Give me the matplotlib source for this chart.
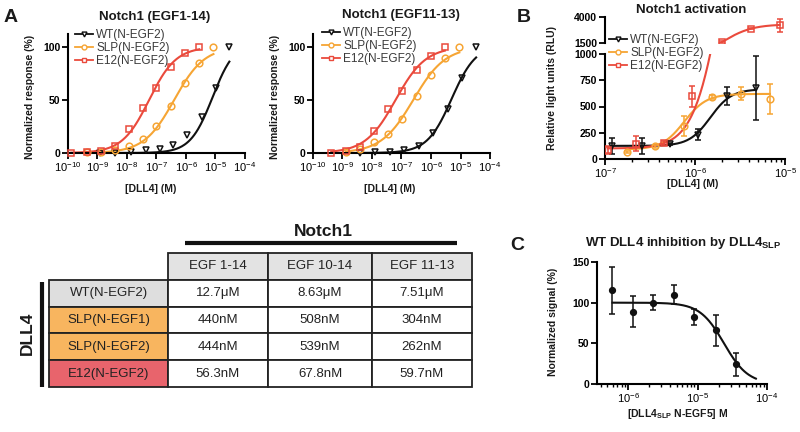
import numpy as np
import matplotlib
matplotlib.use("Agg")
import matplotlib.pyplot as plt
from matplotlib.lines import Line2D

plt.rcParams['font.family'] = ['Liberation Sans', 'DejaVu Sans']
plt.rcParams['mathtext.fontset'] = 'custom'
plt.rcParams['mathtext.rm'] = 'Liberation Sans'
plt.rcParams['mathtext.it'] = 'Liberation Sans:italic'
plt.rcParams['mathtext.bf'] = 'Liberation Sans:bold'

BLACK = '#111111'
ORANGE = '#f6a534'
RED = '#ea4a3c'

#Panel A, left: Notch1 (EGF1-14). x values are log10 [DLL4] (M), y in %
a1_wt_x = [-8.92, -8.41, -7.85, -7.34, -6.89, -6.43, -5.95, -5.47, -4.98, -4.53]
a1_wt_y = [0, 0, 1, 2.5, 4, 8, 17, 34, 61, 100]
a1_slp_x = [-9.35, -8.87, -8.39, -7.93, -7.45, -7.0, -6.51, -6.04, -5.55, -5.07]
a1_slp_y = [0.5, 1, 3, 7, 13, 25, 44, 66, 85, 100]
a1_e12_x = [-9.89, -9.35, -8.87, -8.39, -7.93, -7.45, -7.0, -6.51, -6.04, -5.55]
a1_e12_y = [0, 0.5, 1.5, 7, 23, 42, 61, 81, 94, 100]
#fit parameters: (logEC50, hill, top)
a1_fits = {"wt": (-5.1, 1.15, 105), "slp": (-6.4, 0.85, 100), "e12": (-7.25, 0.95, 100)}

#Panel A, right: Notch1 (EGF11-13)
a2_wt_x = [-8.41, -7.9, -7.4, -6.91, -6.40, -5.92, -5.44, -4.96, -4.47]
a2_wt_y = [0, 1, 1, 3, 7, 19, 41, 71, 100]
a2_slp_x = [-8.89, -8.41, -7.94, -7.45, -6.98, -6.49, -6.01, -5.53, -5.04]
a2_slp_y = [1, 4, 10, 18, 32, 54, 73, 89, 100]
a2_e12_x = [-9.38, -8.89, -8.41, -7.94, -7.45, -6.98, -6.49, -6.01, -5.53]
a2_e12_y = [0, 1.5, 6, 21, 41, 58, 78, 91, 100]
a2_fits = {"wt": (-5.3, 1.05, 102), "slp": (-6.6, 0.8, 100), "e12": (-7.2, 0.85, 100)}
a_decades = [-10, -9, -8, -7, -6, -5, -4]

#Panel B: Notch1 activation (RLU)
b_wt_x = [-6.926, -6.59, -6.278, -5.963, -5.648, -5.326]
b_wt_y = [125, 125, 140, 232, 597, 676]
b_wt_err = [75, 78, 10, 55, 85, 305]
b_slp_x = [-6.76, -6.44, -6.119, -5.81, -5.49, -5.167]
b_slp_y = [63, 120, 311, 590, 622, 571]
b_slp_err = [10, 15, 95, 20, 60, 140]
b_e12_x = [-6.97, -6.655, -6.34, -6.03, -5.70, -5.38, -5.06]
b_e12_y = [90, 146, 150, 597, 1596, 2878, 3199]
b_e12_err = [38, 70, 20, 100, 60, 40, 640]
#(bottom, top, logEC50, hill)
b_fits = {"wt": (125, 665, -5.83, 3.7), "slp": (90, 620, -6.12, 3.5), "e12": (100, 3300, -5.68, 2.7)}
b_decades = [-7, -6, -5]

#Panel C: WT DLL4 inhibition
c_x = [-6.227, -5.93, -5.64, -5.34, -5.05, -4.74, -4.44]
c_y = [115, 89, 100, 110, 82, 66, 24]
c_err = [29, 19, 9, 12, 10, 19, 14]
c_fit = (0, 100, -4.62, -2.5)
c_curve_end = -4.16
c_decades = [-6, -5, -4]

#Table
table_cols = ["", "EGF 1-14", "EGF 10-14", "EGF 11-13"]
table_rows = ["WT(N-EGF2)", "SLP(N-EGF1)", "SLP(N-EGF2)", "E12(N-EGF2)"]
table_vals = [["12.7\u03bcM", "8.63\u03bcM", "7.51\u03bcM"],
              ["440nM", "508nM", "304nM"],
              ["444nM", "539nM", "262nM"],
              ["56.3nM", "67.8nM", "59.7nM"]]
row_colors = ['#dedede', '#f8b55f', '#f8b55f', '#e8646c']
head_color = '#e3e3e3'

labels = ["WT(N-EGF2)", "SLP(N-EGF2)", "E12(N-EGF2)"]
colors = [BLACK, ORANGE, RED]
markers = ['v', 'o', 's']

W, H = 800, 432
fig = plt.figure(figsize=(8, 4.32), dpi=100)

def px(l, t, r, b):
    return [l/W, 1 - b/H, (r - l)/W, (b - t)/H]

def hill(x, bottom, top, logc, h):
    return bottom + (top - bottom)/(1 + 10**(h*(logc - x)))

def style(ax, decades=None):
    for s in ['top', 'right']:
        ax.spines[s].set_visible(False)
    for s in ['left', 'bottom']:
        ax.spines[s].set_linewidth(1.5)
    if decades is not None:
        ax.set_xticks([10.0**d for d in decades])
        ax.set_xticklabels([r"$10^{%d}$" % d for d in decades])
    ax.tick_params(which='major', direction='out', length=4, width=1.3, labelsize=8, pad=1.5)
    ax.tick_params(which='minor', direction='out', length=2.5, width=1)
    for t in ax.get_yticklabels():
        t.set_fontweight('bold')
        t.set_fontsize(7.5)

def legend(ax, x0, y0):
    hands = [Line2D([], [], color=c, marker=m, ms=3.5, mfc='white', mew=1, lw=1.3)
             for c, m in zip(colors, markers)]
    leg = ax.legend(hands, labels, loc='upper left', bbox_to_anchor=(x0/W, 1 - y0/H),
                    bbox_transform=fig.transFigure, frameon=False, fontsize=8.5,
                    borderpad=0, borderaxespad=0, handlelength=1.5, handletextpad=0.3,
                    labelspacing=0.1)
    for t in leg.get_texts():
        t.set_color('#3a3a3a')

ov = fig.add_axes([0, 0, 1, 1])
ov.set_xlim(0, W)
ov.set_ylim(H, 0)
ov.axis('off')

def dose_panel(rect, series, fits):
    ax = fig.add_axes(rect)
    for (xs, ys), key, c, m in zip(series, ["wt", "slp", "e12"], colors, markers):
        xs = np.array(xs)
        xx = np.linspace(xs.min(), xs.max(), 200)
        logc, h, top = fits[key]
        ax.plot(10**xx, hill(xx, 0, top, logc, h), color=c, lw=1.5, clip_on=False)
        ax.plot(10**xs, ys, ls='none', marker=m, ms=4.8, mfc='none', mec=c, mew=1.1,
                clip_on=False, zorder=4)
    ax.set_xscale('log')
    ax.set_xlim(1e-10, 1e-4)
    ax.set_ylim(0, 112)
    ax.set_yticks([0, 50, 100])
    style(ax, a_decades)
    return ax

ax_a1 = dose_panel(px(68, 34, 245, 153),
                   [(a1_wt_x, a1_wt_y), (a1_slp_x, a1_slp_y), (a1_e12_x, a1_e12_y)], a1_fits)
legend(ax_a1, 75, 29)
ax_a2 = dose_panel(px(313, 34, 490, 153),
                   [(a2_wt_x, a2_wt_y), (a2_slp_x, a2_slp_y), (a2_e12_x, a2_e12_y)], a2_fits)
legend(ax_a2, 322, 27)

#Panel B, broken y axis
ax_bl = fig.add_axes(px(605, 54, 785, 159))
ax_bu = fig.add_axes(px(605, 17, 785, 43))
b_series = [(b_wt_x, b_wt_y, b_wt_err, "wt"), (b_slp_x, b_slp_y, b_slp_err, "slp"),
            (b_e12_x, b_e12_y, b_e12_err, "e12")]
for (xs, ys, es, key), c, m in zip(b_series, colors, markers):
    xs = np.array(xs)
    xx = np.linspace(xs.min(), xs.max(), 200)
    bot, top, logc, h = b_fits[key]
    for ax in (ax_bl, ax_bu):
        ax.plot(10**xx, hill(xx, bot, top, logc, h), color=c, lw=1.5)
        ax.errorbar(10**xs, ys, yerr=es, ls='none', marker=m, ms=4.8, mfc='none', mec=c,
                    mew=1.1, ecolor=c, elinewidth=1.1, capsize=2.5, capthick=1.1, zorder=4)
for ax in (ax_bl, ax_bu):
    ax.set_xscale('log')
    ax.set_xlim(1e-7, 1e-5)
ax_bl.set_ylim(0, 1000)
ax_bl.set_yticks([0, 250, 500, 750, 1000])
ax_bu.set_ylim(1500, 4000)
ax_bu.set_yticks([1500, 4000])
style(ax_bl, b_decades)
style(ax_bu, b_decades)
ax_bu.spines['bottom'].set_visible(False)
ax_bu.tick_params(axis='x', which='both', bottom=False, labelbottom=False)
ax_bu.patch.set_alpha(0)
ax_bl.patch.set_alpha(0)
legend(ax_bl, 609, 34)

#Panel C
ax_c = fig.add_axes(px(597, 262, 767, 384))
xs = np.array(c_x)
xx = np.linspace(xs.min(), c_curve_end, 200)
ax_c.plot(10**xx, hill(xx, *c_fit), color=BLACK, lw=1.5)
ax_c.errorbar(10**xs, c_y, yerr=c_err, ls='none', marker='o', ms=4.2, color=BLACK,
              elinewidth=1.1, capsize=2.5, capthick=1.1, zorder=4)
ax_c.set_xscale('log')
ax_c.set_xlim(10**-6.45, 1e-4)
ax_c.set_ylim(0, 150)
ax_c.set_yticks([0, 50, 100, 150])
style(ax_c, c_decades)

#Table
ax_t = fig.add_axes(px(49, 253, 472, 387))
ax_t.axis('off')
cell_text = [table_cols] + [[r] + v for r, v in zip(table_rows, table_vals)]
cell_col = [['white', head_color, head_color, head_color]] + \
           [[rc, 'white', 'white', 'white'] for rc in row_colors]
tab = ax_t.table(cellText=cell_text, cellColours=cell_col, cellLoc='center',
                 colWidths=[119, 100, 104, 100], bbox=[0, 0, 1, 1])
tab.auto_set_font_size(False)
for (r, c), cell in tab.get_celld().items():
    cell.set_linewidth(1.3)
    cell.set_edgecolor('#222222')
    cell.get_text().set_fontsize(9.5)
    cell.get_text().set_color('#222222')
tab[0, 0].set_edgecolor('none')

#Text, labels, bars
bold = dict(fontweight='bold', color='#1a1a1a')
ov.text(155, 17, "Notch1 (EGF1-14)", ha='center', va='center', fontsize=9.5, **bold)
ov.text(401, 15, "Notch1 (EGF11-13)", ha='center', va='center', fontsize=9.5, **bold)
ov.text(691, 10, "Notch1 activation", ha='center', va='center', fontsize=9.5, **bold)
ov.text(683, 243, r"WT DLL4 inhibition by DLL4$_{\mathbf{SLP}}$", ha='center', va='center',
        fontsize=9.5, **bold)
for x, y in [(151, 189), (390, 189), (693, 184)]:
    ov.text(x, y, "[DLL4] (M)", ha='center', va='center', fontsize=7.5, **bold)
ov.text(678, 414, r"[DLL4$_{\mathbf{SLP}}$ N-EGF5] M", ha='center', va='center', fontsize=7.5, **bold)
for x, y, s in [(30, 97, "Normalized response (%)"), (275, 97, "Normalized response (%)"),
                (552, 88, "Relative light units (RLU)"), (553, 322, "Normalized signal (%)")]:
    ov.text(x, y, s, ha='center', va='center', rotation=90, fontsize=7.5, **bold)
for x, y, s in [(11, 17, "A"), (524, 17, "B"), (517, 245, "C")]:
    ov.text(x, y, s, ha='center', va='center', fontsize=14,
            family=['Liberation Sans Narrow', 'Liberation Sans'], **bold)
ov.plot([185, 457], [243, 243], color='#111111', lw=3, solid_capstyle='butt')
ov.text(323, 232, "Notch1", ha='center', va='center', fontsize=12.5, **bold)
ov.plot([42, 42], [282, 387], color='#111111', lw=3, solid_capstyle='butt')
ov.text(27, 333, "DLL4", ha='center', va='center', rotation=90, fontsize=12.5, **bold)

fig.savefig("out.png", dpi=100)
